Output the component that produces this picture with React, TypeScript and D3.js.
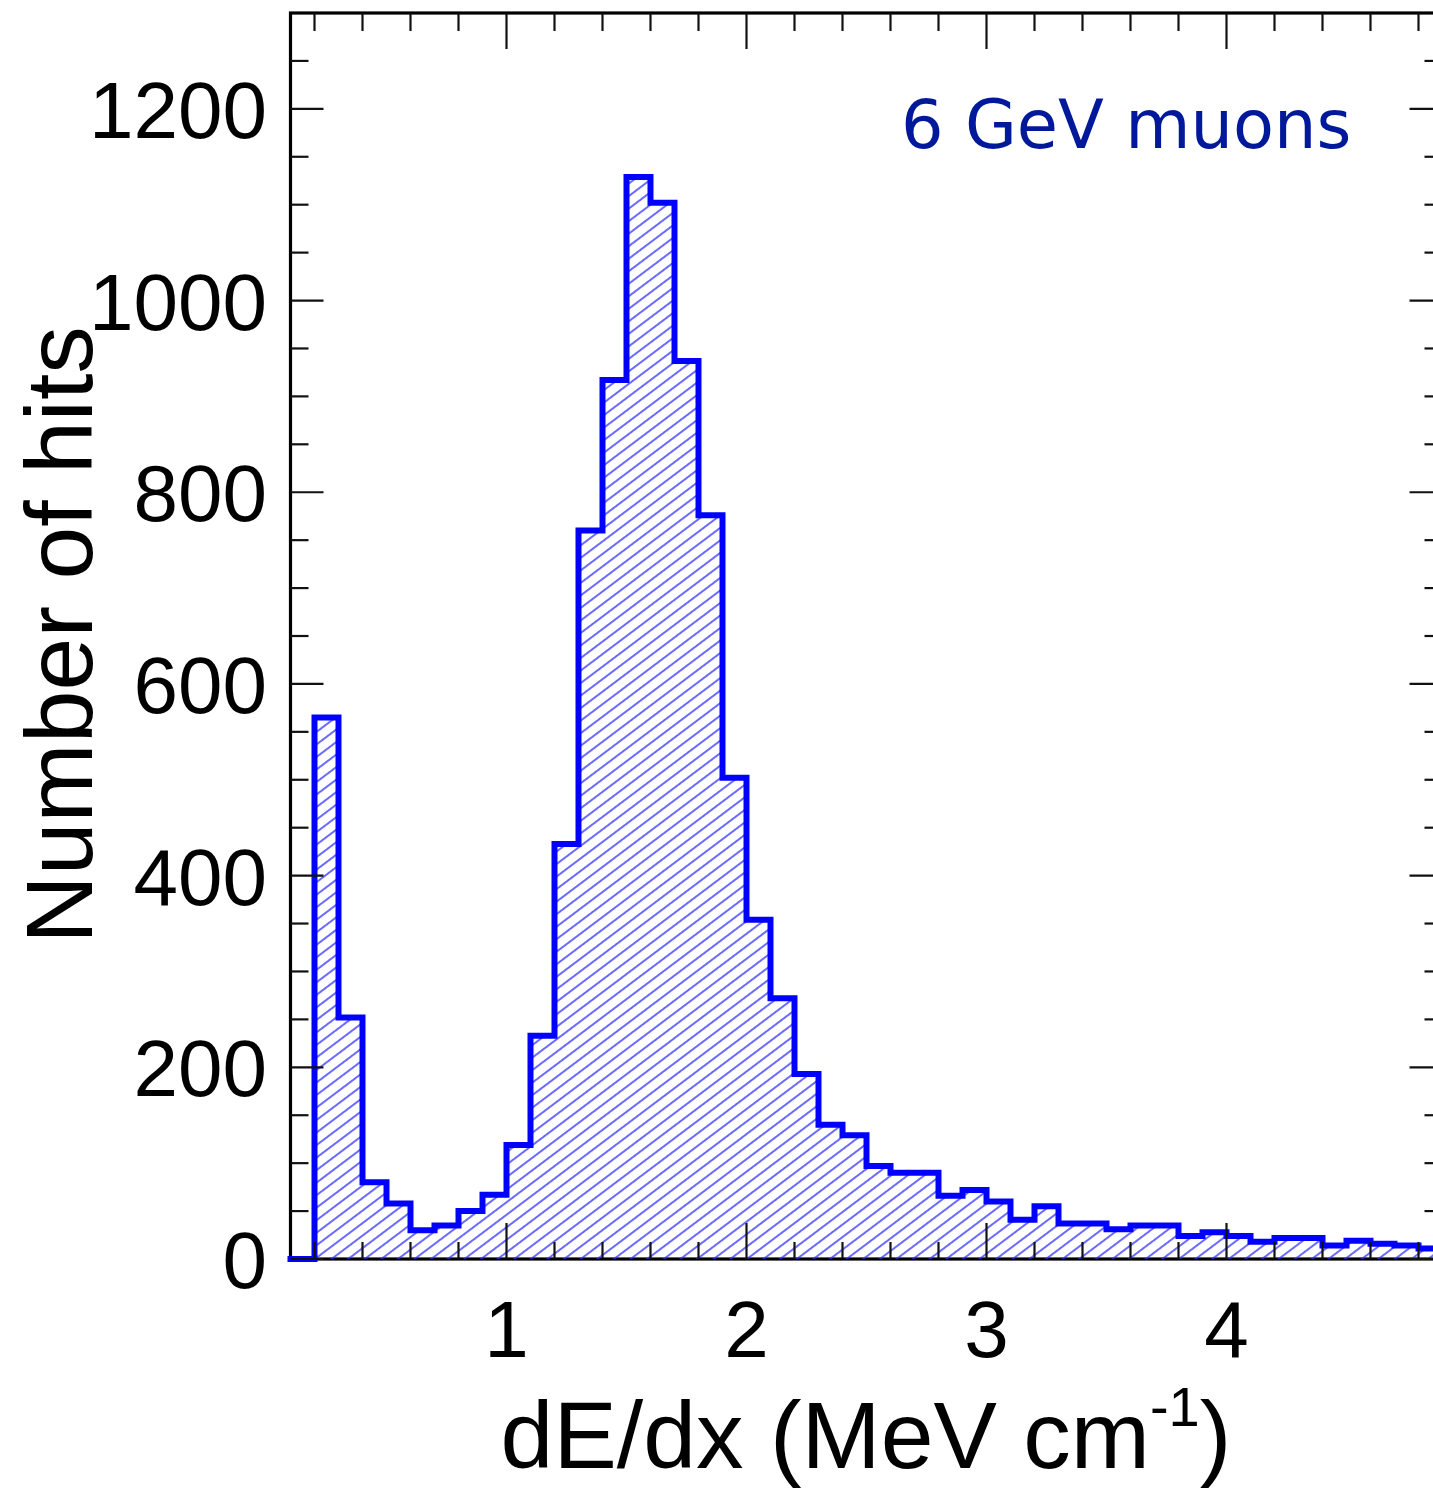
import React from "react";
import * as d3 from "d3";

// ---- data ----
const binLowEdges: number[] = [
  0.1, 0.2, 0.3, 0.4, 0.5, 0.6, 0.7, 0.8, 0.9, 1.0,
  1.1, 1.2, 1.3, 1.4, 1.5, 1.6, 1.7, 1.8, 1.9, 2.0,
  2.1, 2.2, 2.3, 2.4, 2.5, 2.6, 2.7, 2.8, 2.9, 3.0,
  3.1, 3.2, 3.3, 3.4, 3.5, 3.6, 3.7, 3.8, 3.9, 4.0,
  4.1, 4.2, 4.3, 4.4, 4.5, 4.6, 4.7, 4.8,
];
const hitCounts: number[] = [
  0, 565, 252, 80, 58, 30, 35, 50, 67, 119,
  233, 433, 760, 917, 1129, 1102, 937, 776, 502, 354,
  272, 193, 140, 129, 97, 90, 90, 66, 72, 60,
  41, 55, 37, 37, 31, 35, 35, 24, 28, 24,
  18, 22, 22, 14, 19, 16, 14, 11,
];
const BIN_WIDTH = 0.1;
const xDomain: [number, number] = [0.1, 4.9];
const yDomain: [number, number] = [0, 1300];
const xMajorTicks = [1, 2, 3, 4];
const xMinorTicks = [0.2, 0.4, 0.6, 0.8, 1.2, 1.4, 1.6, 1.8, 2.2, 2.4, 2.6, 2.8, 3.2, 3.4, 3.6, 3.8, 4.2, 4.4, 4.6, 4.8];
const yMajorTicks = [0, 200, 400, 600, 800, 1000, 1200];
const yMinorTicks = [50, 100, 150, 250, 300, 350, 450, 500, 550, 650, 700, 750, 850, 900, 950, 1050, 1100, 1150, 1250];
const xTickLabels = ["1", "2", "3", "4"];
const yTickLabels = ["0", "200", "400", "600", "800", "1000", "1200"];
const xTitle = "dE/dx (MeV cm";
const xTitleSup = "-1";
const yTitle = "Number of hits";
const annotation = "6 GeV muons";

const SANS = "'Liberation Sans', Arial, Helvetica, sans-serif";

export default function App() {
  const W = 1433;
  const H = 1488;
  const left = 290.5;
  const right = 1442.5;
  const top = 13;
  const bottom = 1259;

  const x = d3.scaleLinear().domain(xDomain).range([left, right]);
  const y = d3.scaleLinear().domain(yDomain).range([bottom, top]);

  const pts: [number, number][] = [[binLowEdges[0], 0]];
  binLowEdges.forEach((lo, i) => {
    pts.push([lo, hitCounts[i]]);
    pts.push([lo + BIN_WIDTH, hitCounts[i]]);
  });
  const lineGen = d3
    .line<[number, number]>()
    .x((d) => x(d[0]))
    .y((d) => y(d[1]));
  const areaGen = d3
    .area<[number, number]>()
    .x((d) => x(d[0]))
    .y0(y(0))
    .y1((d) => y(d[1]));

  const tickStroke = "#111";
  const minorLen = 18;
  const majorLenX = 36;
  const majorLenY = 33;

  return (
    <svg
      width={W}
      height={H}
      style={{ position: "absolute", left: 0, top: 0, background: "#fff" }}
    >
      <defs>
        <pattern
          id="hatch"
          patternUnits="userSpaceOnUse"
          width={10}
          height={10}
          patternTransform="rotate(-37)"
        >
          <line x1={0} y1={5} x2={10} y2={5} stroke="#2b2bff" strokeWidth={1.4} />
        </pattern>
        <clipPath id="frameClip">
          <rect x={left} y={top} width={right - left} height={bottom - top} />
        </clipPath>
      </defs>
      <rect x={0} y={0} width={W} height={H} fill="#fff" />

      {/* frame */}
      <rect
        x={left}
        y={top}
        width={right - left}
        height={bottom - top}
        fill="none"
        stroke="#000"
        strokeWidth={3.2}
      />

      {/* histogram */}
      <g clipPath="url(#frameClip)">
        <path d={areaGen(pts) || ""} fill="url(#hatch)" />
      </g>
      <path
        d={lineGen(pts) || ""}
        fill="none"
        stroke="#0000ff"
        strokeWidth={6}
        strokeLinejoin="miter"
        strokeLinecap="square"
      />

      {/* ticks */}
      <g stroke={tickStroke} strokeWidth={2.2}>
        {xMinorTicks.map((t) => (
          <g key={"xm" + t}>
            <line x1={x(t)} x2={x(t)} y1={bottom} y2={bottom - 17} />
            <line x1={x(t)} x2={x(t)} y1={top} y2={top + minorLen} />
          </g>
        ))}
        {xMajorTicks.map((t) => (
          <g key={"xM" + t}>
            <line x1={x(t)} x2={x(t)} y1={bottom} y2={bottom - majorLenX} />
            <line x1={x(t)} x2={x(t)} y1={top} y2={top + majorLenX} />
          </g>
        ))}
        {yMinorTicks.map((t) => (
          <g key={"ym" + t}>
            <line x1={left} x2={left + minorLen} y1={y(t)} y2={y(t)} />
            <line x1={right} x2={right - minorLen} y1={y(t)} y2={y(t)} />
          </g>
        ))}
        {yMajorTicks.map((t) => (
          <g key={"yM" + t}>
            <line x1={left} x2={left + majorLenY} y1={y(t)} y2={y(t)} />
            <line x1={right} x2={right - majorLenY} y1={y(t)} y2={y(t)} />
          </g>
        ))}
      </g>

      {/* tick labels */}
      <g fontFamily={SANS} fontSize={80} fill="#000">
        {xMajorTicks.map((t, i) => (
          <text key={"xl" + t} x={x(t)} y={1357} textAnchor="middle">
            {xTickLabels[i]}
          </text>
        ))}
        {yMajorTicks.map((t, i) => (
          <text key={"yl" + t} x={267} y={y(t) + 29} textAnchor="end">
            {yTickLabels[i]}
          </text>
        ))}
      </g>

      {/* axis titles */}
      <text
        x={866}
        y={1468}
        textAnchor="middle"
        fontFamily={SANS}
        fontSize={95}
        fill="#000"
      >
        <tspan>{xTitle}</tspan>
        <tspan dy={-42} fontSize={56}>{xTitleSup}</tspan>
        <tspan dy={42}>)</tspan>
      </text>
      <text
        transform="translate(92,635) rotate(-90)"
        textAnchor="middle"
        fontFamily={SANS}
        fontSize={95}
        fill="#000"
      >
        {yTitle}
      </text>

      {/* annotation */}
      <text
        x={901}
        y={148}
        fontFamily="'DejaVu Sans', Verdana, sans-serif"
        fontSize={67}
        fill="#00189a"
      >
        {annotation}
      </text>
    </svg>
  );
}
